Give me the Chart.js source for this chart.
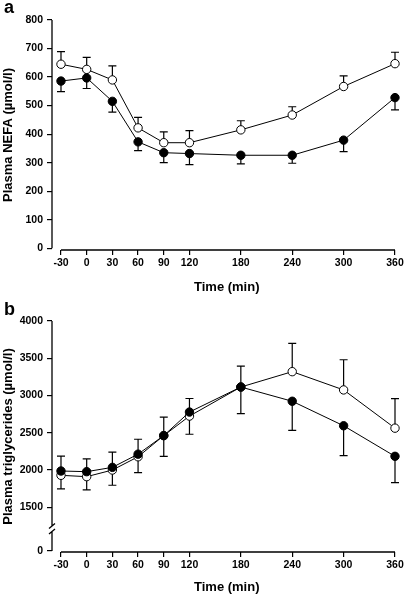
<!DOCTYPE html>
<html>
<head>
<meta charset="utf-8">
<script src="https://cdn.jsdelivr.net/npm/chart.js@4"></script>
<style>
  body { margin: 0; background: #fff; }
  .panel { position: absolute; left: 0; width: 406px; }
  .tag { position: absolute; left: 4px; font: bold 18px 'Liberation Sans', Arial, sans-serif; line-height: 1; }
</style>
</head>
<body>
<div class="panel" style="top:0;height:296px"><canvas id="chartA" width="406" height="296"></canvas></div>
<div class="tag" style="top:-2px">a</div>
<div class="panel" style="top:296px;height:302px"><canvas id="chartB" width="406" height="302"></canvas></div>
<div class="tag" style="top:300px">b</div>

<script>
// time points (min)
const timePoints = [-30, 0, 30, 60, 90, 120, 180, 240, 300, 360];

// panel a: plasma NEFA (umol/l), mean and SEM
const nefaOpen = [645, 627, 590, 422, 370, 370, 415, 467, 567, 647];
const nefaOpenSem = [44, 42, 49, 37, 38, 42, 32, 29, 37, 40];
const nefaFilled = [586, 597, 515, 373, 335, 332, 326, 326, 379, 528];
const nefaFilledSem = [37, 37, 38, 31, 35, 39, 30, 28, 40, 43];
const nefaTicks = [0, 100, 200, 300, 400, 500, 600, 700, 800];

// panel b: plasma triglycerides (umol/l), mean and SEM
const tgOpen = [1929, 1911, 2000, 2178, 2462, 2724, 3114, 3320, 3075, 2562];
const tgOpenSem = [258, 240, 240, 235, 249, 236, 280, 380, 405, 396];
const tgFilled = [1987, 1978, 2036, 2213, 2462, 2778, 3114, 2923, 2594, 2184];
const tgFilledSem = [240, 245, 240, 249, 280, 298, 356, 392, 401, 352];
const tgTicks = [0, 1500, 2000, 2500, 3000, 3500, 4000];

// broken axis: the "0" tick of panel b sits just under 1500
const tgZeroAt = 914;

Chart.defaults.font.family = "'Liberation Sans', Arial, sans-serif";
Chart.defaults.color = '#000';

// error bars: open circles upward, filled circles downward
const errorBars = {
  id: 'errorBars',
  beforeDatasetsDraw(chart) {
    const { ctx, scales: { x, y } } = chart;
    ctx.save();
    ctx.strokeStyle = '#000';
    ctx.lineWidth = 1.2;
    chart.data.datasets.forEach(ds => {
      ds.data.forEach((p, i) => {
        const px = x.getPixelForValue(p.x);
        const y0 = y.getPixelForValue(p.y);
        const y1 = y.getPixelForValue(p.y + ds.errDir * ds.sem[i]);
        ctx.beginPath();
        ctx.moveTo(px, y0);
        ctx.lineTo(px, y1);
        ctx.moveTo(px - 4, y1);
        ctx.lineTo(px + 4, y1);
        ctx.stroke();
      });
    });
    ctx.restore();
  }
};

// detached axis lines (and the axis break of panel b)
const axisLines = {
  id: 'axisLines',
  beforeDatasetsDraw(chart, args, opts) {
    const { ctx, chartArea, scales: { x, y } } = chart;
    const lx = chartArea.left;
    ctx.save();
    ctx.strokeStyle = '#000';
    ctx.lineWidth = 1.3;
    ctx.beginPath();
    if (opts.breakLow != null) {
      const b1 = y.getPixelForValue(opts.breakLow);
      const b2 = y.getPixelForValue(opts.breakHigh);
      ctx.moveTo(lx, y.getPixelForValue(opts.yFrom));
      ctx.lineTo(lx, b1);
      ctx.moveTo(lx, b2);
      ctx.lineTo(lx, y.getPixelForValue(opts.yTo));
      ctx.moveTo(lx - 3, b1 + 2);
      ctx.lineTo(lx + 3, b1 - 3);
      ctx.moveTo(lx - 3, b2 + 3);
      ctx.lineTo(lx + 3, b2 - 2);
    } else {
      ctx.moveTo(lx, y.getPixelForValue(opts.yFrom));
      ctx.lineTo(lx, y.getPixelForValue(opts.yTo));
    }
    ctx.moveTo(x.getPixelForValue(timePoints[0]), chartArea.bottom);
    ctx.lineTo(x.getPixelForValue(timePoints[timePoints.length - 1]), chartArea.bottom);
    ctx.stroke();
    ctx.restore();
  }
};

function series(values, sem, dir, fill) {
  return {
    data: timePoints.map((t, i) => ({ x: t, y: values[i] })),
    sem: sem,
    errDir: dir,
    clip: false,
    borderColor: '#000',
    borderWidth: 1,
    backgroundColor: fill,
    pointBackgroundColor: fill,
    pointBorderColor: '#000',
    pointBorderWidth: 1,
    pointRadius: 4.2,
    tension: 0
  };
}

function makeChart(id, cfg) {
  return new Chart(document.getElementById(id), {
    type: 'line',
    data: {
      datasets: [
        series(cfg.filled, cfg.filledSem, -1, '#000'),
        series(cfg.open, cfg.openSem, 1, '#fff')
      ]
    },
    options: {
      responsive: false,
      animation: false,
      layout: { padding: { top: cfg.padTop, right: 11, left: 0, bottom: 0 } },
      plugins: {
        legend: { display: false },
        tooltip: { enabled: false },
        axisLines: cfg.axis
      },
      scales: {
        x: {
          type: 'linear',
          min: -40.5,
          max: 360,
          afterBuildTicks: s => { s.ticks = timePoints.map(v => ({ value: v })); },
          afterFit: s => { s.height = 46; },
          border: { display: false },
          grid: { drawOnChartArea: false, drawTicks: true, tickLength: 5, color: '#000', lineWidth: 1.2 },
          ticks: { font: { size: 10.5, weight: 'bold' }, padding: 2, maxRotation: 0 },
          title: { display: true, text: '\u2002Time (min)', font: { size: 13, weight: 'bold' }, padding: { top: 0, bottom: cfg.xTitlePad } }
        },
        y: {
          min: cfg.yMin,
          max: cfg.yMax,
          afterBuildTicks: s => { s.ticks = cfg.ticks.map(v => ({ value: v === 0 ? cfg.zeroAt : v })); },
          afterFit: s => { s.width = 52; },
          border: { display: false },
          grid: { drawOnChartArea: false, drawTicks: true, tickLength: 5, color: '#000', lineWidth: 1.2 },
          ticks: {
            font: { size: 10.5, weight: 'bold' },
            padding: 4,
            callback: v => (v === cfg.zeroAt ? '0' : v)
          },
          title: { display: true, text: cfg.yTitle, font: { size: 13, weight: 'bold' }, padding: { top: 1, bottom: 0 } }
        }
      }
    },
    plugins: [axisLines, errorBars]
  });
}

makeChart('chartA', {
  open: nefaOpen, openSem: nefaOpenSem,
  filled: nefaFilled, filledSem: nefaFilledSem,
  ticks: nefaTicks, zeroAt: 0,
  yMin: -6, yMax: 800, padTop: 20, xTitlePad: 1,
  yTitle: 'Plasma NEFA (µmol/l)',
  axis: { yFrom: 0, yTo: 800 }
});

makeChart('chartB', {
  open: tgOpen, openSem: tgOpenSem,
  filled: tgFilled, filledSem: tgFilledSem,
  ticks: tgTicks, zeroAt: tgZeroAt,
  yMin: 900, yMax: 4000, padTop: 25, xTitlePad: 3,
  yTitle: 'Plasma triglycerides (µmol/l)',
  axis: { yFrom: tgZeroAt, yTo: 4000, breakLow: 1170, breakHigh: 1255 }
});
</script>
</body>
</html>
